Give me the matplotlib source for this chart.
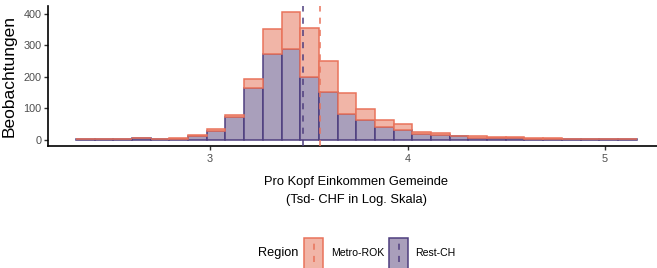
import numpy as np
import matplotlib
matplotlib.use("Agg")
import matplotlib.pyplot as plt
from matplotlib.patches import Rectangle
from matplotlib.lines import Line2D

# histogram counts per bin (30 bins, stacked: Metro-ROK on top of Rest-CH)
rest_ch = [1, 1, 2, 5, 2, 3, 11, 28, 71, 166, 274, 288, 200, 153, 82,
           62, 41, 30, 18, 14, 10, 6, 5, 4, 3, 3, 2, 2, 2, 2]
metro_rok = [2, 0, 0, 0, 1, 3, 4, 5, 8, 28, 78, 118, 154, 97, 67,
             37, 21, 19, 7, 8, 3, 5, 2, 3, 2, 1, 1, 0, 1, 0]
bin_lo, bin_hi = 2.3215, 5.160
mean_rest = 3.472
mean_metro = 3.557
regions = ["Metro-ROK", "Rest-CH"]

pink_fill, pink_edge = "#F1B5A7", "#E9735B"
purp_fill, purp_edge = "#A99FBB", "#4E3E7E"

sans = ["Liberation Sans", "DejaVu Sans"]
W, H = 657, 268

fig = plt.figure(figsize=(W / 100, H / 100), dpi=100)
ax = fig.add_axes([48 / W, (H - 146) / H, (664 - 48) / W, (146 - 5.8) / H])

edges = np.linspace(bin_lo, bin_hi, len(rest_ch) + 1)
width = edges[1] - edges[0]
ax.bar(edges[:-1], rest_ch, width=width, align="edge", color=purp_fill,
       edgecolor=purp_edge, linewidth=1.1, zorder=2)
ax.bar(edges[:-1], metro_rok, bottom=rest_ch, width=width, align="edge",
       color=pink_fill, edgecolor=pink_edge, linewidth=1.1, zorder=2)

ax.axvline(mean_rest, color=purp_edge, lw=1.1, ls=(0, (4, 4)), zorder=3)
ax.axvline(mean_metro, color=pink_edge, lw=1.1, ls=(0, (4, 4)), zorder=3)

ax.set_xlim(2.1797, 5.2987)
ax.set_ylim(-20.3, 426.3)
ax.set_xticks([3, 4, 5])
ax.set_yticks([0, 100, 200, 300, 400])
for s in ["top", "right"]:
    ax.spines[s].set_visible(False)
for s in ["left", "bottom"]:
    ax.spines[s].set_linewidth(1.2)
    ax.spines[s].set_color("black")
ax.tick_params(length=2.6, width=1.0, color="#333333", labelcolor="#4D4D4D",
               labelsize=7.8, pad=2)
ax.tick_params(axis="x", pad=3)
for lab in ax.get_xticklabels() + ax.get_yticklabels():
    lab.set_family(sans)

ax.set_ylabel("Beobachtungen", fontsize=12.5, family=sans)
ax.yaxis.set_label_coords((17 - 48) / 616, 0.5)

fig.text(356 / W, 1 - 191 / H,
         "Pro Kopf Einkommen Gemeinde\n(Tsd- CHF in Log. Skala)",
         ha="center", va="center", fontsize=9.3, family=sans, linespacing=1.7)

# legend at the bottom
fig.text(258 / W, 1 - 253 / H, "Region", ha="left", va="center",
         fontsize=9.2, family=sans)
keys = [(304, pink_fill, pink_edge, 331), (389, purp_fill, purp_edge, 415)]
for (kx, fc, ec, tx), name in zip(keys, regions):
    fig.add_artist(Rectangle((kx / W, 1 - 271 / H), 19 / W, 33 / H,
                             transform=fig.transFigure, facecolor=fc,
                             edgecolor=ec, linewidth=1.1))
    fig.add_artist(Line2D([(kx + 9.5) / W] * 2, [1 - 262 / H, 1 - 242 / H],
                          transform=fig.transFigure, color=ec, lw=1.1,
                          ls=(0, (4, 4))))
    fig.text(tx / W, 1 - 253 / H, name, ha="left", va="center",
             fontsize=7.6, family=sans)

fig.savefig("out.png", dpi=100)
